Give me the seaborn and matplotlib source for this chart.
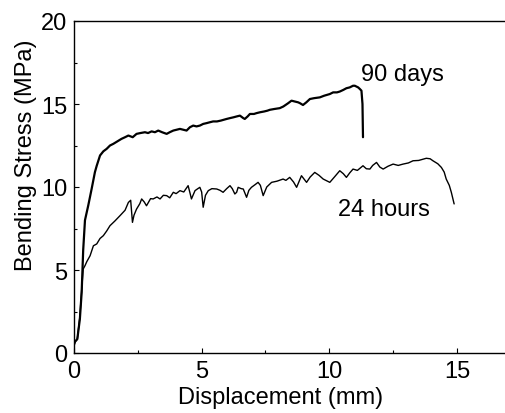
import matplotlib
matplotlib.use("Agg")
import matplotlib.pyplot as plt
import seaborn as sns
import pandas as pd
from matplotlib.ticker import MultipleLocator

# ---- data ----
d90_x = [0.0, 0.04, 0.13, 0.23, 0.30, 0.36, 0.43, 0.56, 0.69, 0.82, 0.89, 1.02, 1.15, 1.28, 1.41, 1.54,
         1.70, 1.86, 2.0, 2.13, 2.30, 2.45, 2.60, 2.78, 2.90, 3.04, 3.17, 3.30, 3.45, 3.63, 3.75, 3.89,
         4.02, 4.15, 4.28, 4.41, 4.54, 4.67, 4.80, 4.93, 5.06, 5.20, 5.32, 5.45, 5.60, 5.75, 5.98, 6.11,
         6.25, 6.37, 6.50, 6.63, 6.69, 6.80, 6.89, 7.05, 7.15, 7.28, 7.45, 7.58, 7.67, 7.85, 8.06, 8.20,
         8.39, 8.52, 8.65, 8.78, 8.85, 8.97, 9.10, 9.24, 9.40, 9.63, 9.80, 10.02, 10.15, 10.30, 10.41,
         10.55, 10.67, 10.80, 10.93, 11.0, 11.13, 11.20, 11.26, 11.30, 11.32]
d90_y = [0.5, 0.68, 0.84, 2.05, 3.65, 6.2, 8.0, 8.9, 9.88, 10.9, 11.28, 11.9, 12.15, 12.3, 12.5, 12.6,
         12.75, 12.9, 13.0, 13.1, 13.0, 13.2, 13.25, 13.3, 13.25, 13.35, 13.3, 13.4, 13.3, 13.2, 13.3, 13.4,
         13.45, 13.5, 13.45, 13.4, 13.6, 13.7, 13.65, 13.7, 13.8, 13.85, 13.9, 13.95, 13.95, 14.0, 14.1, 14.15,
         14.2, 14.25, 14.3, 14.15, 14.1, 14.25, 14.4, 14.4, 14.45, 14.5, 14.55, 14.6, 14.65, 14.7, 14.75, 14.85,
         15.05, 15.2, 15.15, 15.1, 15.05, 14.94, 15.1, 15.3, 15.35, 15.4, 15.5, 15.6, 15.7, 15.7, 15.75,
         15.85, 15.95, 16.0, 16.1, 16.1, 16.0, 15.9, 15.8, 15.0, 13.0]

h24_x = [0.0, 0.04, 0.13, 0.23, 0.30, 0.36, 0.43, 0.50, 0.63, 0.76, 0.89, 1.02, 1.15, 1.28, 1.41, 1.60,
         1.80, 2.0, 2.13, 2.22, 2.29, 2.35, 2.45, 2.58, 2.65, 2.75, 2.84, 3.0, 3.10, 3.25, 3.37, 3.50,
         3.63, 3.75, 3.89, 4.0, 4.15, 4.30, 4.47, 4.55, 4.60, 4.74, 4.85, 4.93, 5.0, 5.06, 5.15, 5.26,
         5.40, 5.59, 5.72, 5.84, 5.98, 6.11, 6.20, 6.30, 6.37, 6.43, 6.55, 6.63, 6.76, 6.85, 6.95, 7.10,
         7.21, 7.30, 7.41, 7.55, 7.74, 7.95, 8.19, 8.30, 8.45, 8.60, 8.72, 8.91, 9.0, 9.11, 9.25, 9.43,
         9.60, 9.76, 10.02, 10.20, 10.41, 10.55, 10.67, 10.80, 10.93, 11.10, 11.32, 11.45, 11.59, 11.70,
         11.85, 11.98, 12.11, 12.30, 12.50, 12.70, 12.89, 13.10, 13.28, 13.50, 13.80, 13.95, 14.06, 14.25,
         14.39, 14.50, 14.58, 14.70, 14.78, 14.89]
h24_y = [0.5, 0.68, 0.84, 2.2, 3.8, 5.06, 5.26, 5.5, 5.86, 6.46, 6.57, 6.9, 7.07, 7.35, 7.67, 7.95,
         8.27, 8.6, 9.07, 9.2, 7.87, 8.3, 8.67, 9.0, 9.28, 9.1, 8.87, 9.3, 9.28, 9.4, 9.28, 9.5,
         9.48, 9.35, 9.68, 9.6, 9.78, 9.7, 10.08, 9.6, 9.28, 9.78, 9.9, 9.98, 9.7, 8.78, 9.5, 9.78,
         9.9, 9.88, 9.8, 9.68, 9.9, 10.08, 9.9, 9.58, 9.68, 9.98, 9.9, 9.88, 9.38, 9.8, 9.98, 10.15,
         10.28, 10.1, 9.48, 10.0, 10.28, 10.35, 10.48, 10.4, 10.58, 10.3, 9.98, 10.68, 10.5, 10.28, 10.6, 10.88,
         10.7, 10.48, 10.28, 10.6, 10.98, 10.8, 10.58, 10.85, 11.08, 11.0, 11.28, 11.1, 11.08, 11.3,
         11.48, 11.2, 11.08, 11.25, 11.38, 11.3, 11.38, 11.45, 11.58, 11.6, 11.73, 11.7, 11.58, 11.4,
         11.18, 10.9, 10.48, 10.1, 9.68, 8.98]

labels = ["90 days", "24 hours"]
xlabel = "Displacement (mm)"
ylabel = "Bending Stress (MPa)"

assert len(d90_x) == len(d90_y), (len(d90_x), len(d90_y))
assert len(h24_x) == len(h24_y), (len(h24_x), len(h24_y))

df = pd.concat([
    pd.DataFrame({"x": d90_x, "y": d90_y, "s": labels[0]}),
    pd.DataFrame({"x": h24_x, "y": h24_y, "s": labels[1]}),
])

sns.set_style("ticks")
plt.rcParams["font.family"] = ["Liberation Sans", "DejaVu Sans"]
plt.rcParams["text.color"] = "black"
plt.rcParams["axes.labelcolor"] = "black"
plt.rcParams["xtick.color"] = "black"
plt.rcParams["ytick.color"] = "black"
FS = 17

fig = plt.figure(figsize=(5.05, 4.14), dpi=100)
ax = fig.add_axes([74 / 505, 60 / 414, 434 / 505, 332 / 414])

sns.lineplot(data=df[df.s == labels[0]], x="x", y="y", sort=False, estimator=None,
             color="black", linewidth=1.6, ax=ax, legend=False)
sns.lineplot(data=df[df.s == labels[1]], x="x", y="y", sort=False, estimator=None,
             color="black", linewidth=1.0, ax=ax, legend=False)

ax.set_xlim(0, 17)
ax.set_ylim(0, 20)
ax.xaxis.set_major_locator(MultipleLocator(5))
ax.xaxis.set_minor_locator(MultipleLocator(2.5))
ax.yaxis.set_major_locator(MultipleLocator(5))
ax.yaxis.set_minor_locator(MultipleLocator(2.5))
ax.tick_params(which="both", direction="in", colors="black", labelcolor="black",
               width=0.8, labelsize=FS)
ax.tick_params(which="major", length=3.6)
ax.tick_params(which="minor", length=2.0)
ax.tick_params(axis="x", which="major", pad=5)
ax.tick_params(axis="y", which="major", pad=5)

for side in ["left", "bottom", "top"]:
    ax.spines[side].set_visible(True)
    ax.spines[side].set_color("black")
    ax.spines[side].set_linewidth(1.0)
ax.spines["right"].set_visible(False)

ax.set_xlabel(xlabel, fontsize=FS, labelpad=3, x=0.475, color="black")
ax.set_ylabel(ylabel, fontsize=FS, labelpad=3, y=0.60, color="black")

ax.text(11.23, 16.45, labels[0], fontsize=FS, ha="left", va="baseline", color="black")
ax.text(10.34, 8.31, labels[1], fontsize=FS, ha="left", va="baseline", color="black")

fig.savefig("out.png", dpi=100)
